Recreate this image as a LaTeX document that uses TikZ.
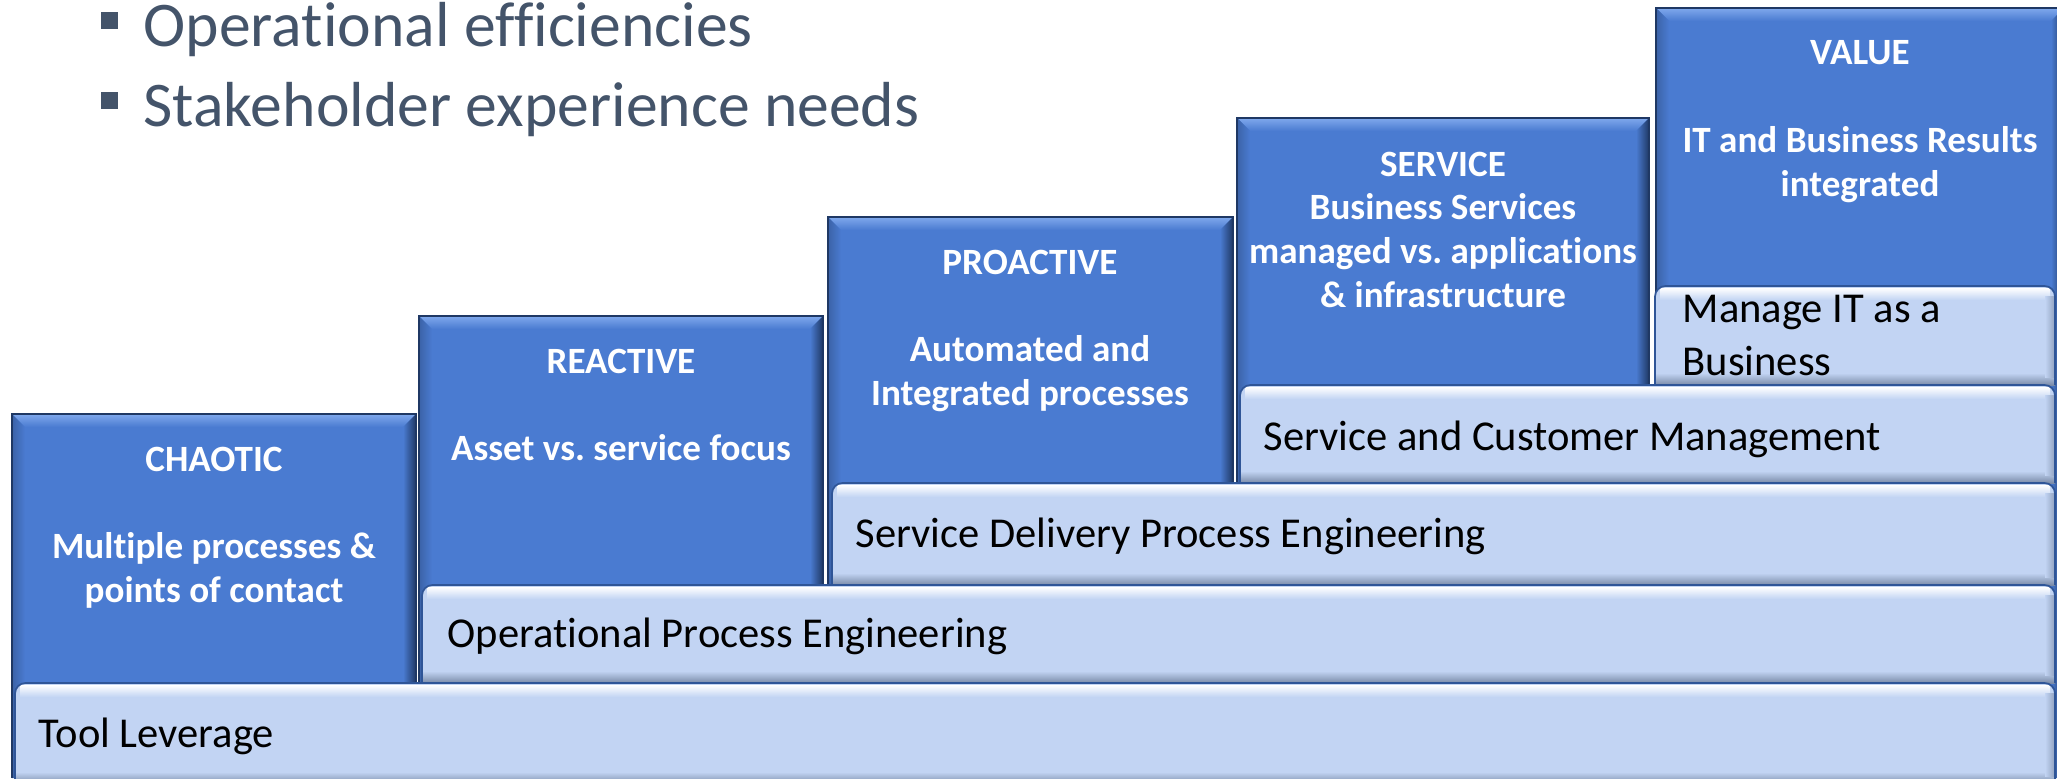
\documentclass[tikz,border=0pt]{standalone}
\usepackage{fontspec}
\setmainfont{Carlito}[Ligatures=NoCommon]

\definecolor{colblue}{HTML}{4A7BD1}
\definecolor{colhi}{HTML}{7FA8EC}
\definecolor{coldark}{HTML}{1F3864}
\definecolor{barblue}{HTML}{C2D4F3}
\definecolor{barshade}{HTML}{7A8BA8}
\definecolor{baredge}{HTML}{2F5597}
\definecolor{bulletgray}{HTML}{44546A}

\tikzset{
  coltext/.style={anchor=north, align=center, text=white, inner sep=0pt,
                  font=\fontsize{10.55}{12.5}\selectfont\bfseries},
  bartext/.style={anchor=base west, align=left, inner sep=0pt,
                  font=\fontsize{12.1}{14.8}\selectfont},
  bullet/.style={anchor=base west, inner sep=0pt, text=bulletgray,
                  font=\fontsize{18.1}{23}\selectfont},
}

% bevelled column: left x, top y, right x
\newcommand{\stepcol}[3]{%
  \fill[colblue] (#1,#2) rectangle (#3,778);
  \shade[top color=colhi, bottom color=colblue]
    (#1,#2) -- (#3,#2) -- (#3-13,#2+13) -- (#1+13,#2+13) -- cycle;
  \shade[left color=colblue, right color=coldark]
    (#3,#2) -- (#3-13,#2+13) -- (#3-13,778) -- (#3,778) -- cycle;
  \shade[left color=colblue!80!black, right color=colblue]
    (#1,#2) -- (#1+13,#2+13) -- (#1+13,778) -- (#1,778) -- cycle;
  \draw[coldark, line width=0.6pt] (#1,778) -- (#1,#2) -- (#3,#2) -- (#3,778);
}

% bevelled bar: left x, top y, bottom y
\newcommand{\stepbar}[3]{%
  \fill[barblue] (#1,#3) [rounded corners=3pt] -- (#1,#2) -- (2055,#2) -- (2055,#3) -- cycle;
  \shade[top color=white, bottom color=barblue] (#1+5,#2+2) rectangle (2050,#2+14);
  \shade[top color=barblue, bottom color=barshade] (#1+1,#3-12) rectangle (2055,#3);
  \shade[left color=barblue, right color=barshade!70!barblue] (2045,#2+10) rectangle (2055,#3-8);
  \draw[baredge, line width=0.5pt] (#1,#3) [rounded corners=3pt] -- (#1,#2) -- (2055,#2) -- (2055,#3);
}

\begin{document}
\begin{tikzpicture}[x=0.01cm, y=-0.01cm]
  \useasboundingbox (0,0) rectangle (2057,778);

  % bullets
  \fill[bulletgray] (101,12) rectangle (118,29);
  \fill[bulletgray] (101,92) rectangle (118,109);
  \node[bullet] (eff) at (143,46)  {Operational efficiencies};
  \node[bullet] (exp) at (143,126) {Stakeholder experience needs};

  % maturity columns
  \stepcol{12}{414}{416}
  \stepcol{419}{316}{823}
  \stepcol{828}{217}{1233}
  \stepcol{1237}{118}{1649}
  \stepcol{1656}{8}{2064}

  \node[coltext] (chaotic)   at (214,446)  {CHAOTIC\\[12.5pt]Multiple processes \&\\points of contact};
  \node[coltext] (reactive)  at (621,348)  {REACTIVE\\[12.5pt]Asset vs.\ service focus};
  \node[coltext] (proactive) at (1030,249) {PROACTIVE\\[12.5pt]Automated and\\Integrated processes};
  \node[coltext] (service)   at (1443,151) {SERVICE\\Business Services\\managed vs.\ applications\\\& infrastructure};
  \node[coltext] (value)     at (1860,40)  {VALUE\\[12.5pt]IT and Business Results\\integrated};

  % capability bars
  \stepbar{1655}{286}{385}
  \stepbar{1240}{385}{483}
  \stepbar{832}{483}{585}
  \stepbar{422}{585}{683}
  \stepbar{15}{683}{784}

  \node[bartext] (manage)   at (1682,375) {Manage IT as a\\Business};
  \node[bartext] (customer) at (1263,450) {Service and Customer Management};
  \node[bartext] (delivery) at (855,547)  {Service Delivery Process Engineering};
  \node[bartext] (operate)  at (447,647)  {Operational Process Engineering};
  \node[bartext] (tool)     at (38,747)   {Tool Leverage};
\end{tikzpicture}
\end{document}
